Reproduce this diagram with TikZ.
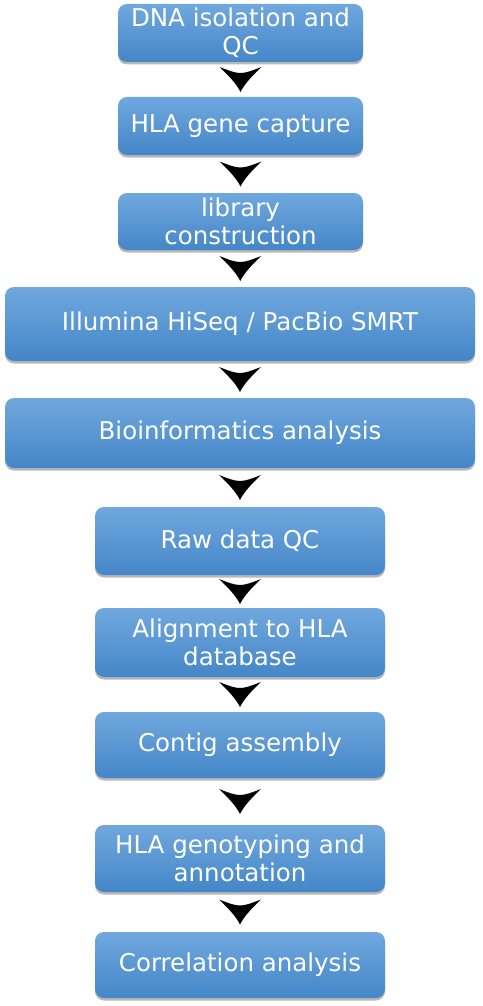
\documentclass[tikz,border=0pt]{standalone}
\usepackage{fontspec}
\setmainfont{DejaVu Sans}
\usetikzlibrary{shadows}
\definecolor{boxtop}{RGB}{112,168,222}
\definecolor{boxbot}{RGB}{68,134,200}
\tikzset{
  flowbox/.style={rectangle, rounded corners=9pt, inner sep=0pt,
    top color=boxtop, bottom color=boxbot, draw=none,
    text=white, align=center, font=\fontsize{24.5}{28}\selectfont,
    drop shadow={shadow xshift=0pt, shadow yshift=-2.5pt, fill=black, opacity=0.28}},
  flowarrow/.pic={
    \fill[black] (-21,-12.5) .. controls (0,-4.5) .. (21,-12.5)
      .. controls (14,-6) and (4,4) .. (0,12.5)
      .. controls (-4,4) and (-14,-6) .. (-21,-12.5) -- cycle;
  }
}
\begin{document}
\begin{tikzpicture}[x=1pt,y=-1pt]
\useasboundingbox (0,0) rectangle (482,1006);
\node[flowbox, minimum width=245pt, minimum height=58pt] (n1) at (240.5,33) {DNA isolation and\\QC};
\node[flowbox, minimum width=245pt, minimum height=58pt] (n2) at (240.5,126) {HLA gene capture};
\node[flowbox, minimum width=245pt, minimum height=57pt] (n3) at (240.5,221.5) {library\\construction};
\node[flowbox, minimum width=470pt, minimum height=74pt] (n4) at (240,324) {Illumina HiSeq / PacBio SMRT};
\node[flowbox, minimum width=470pt, minimum height=70pt] (n5) at (240,433) {Bioinformatics analysis};
\node[flowbox, minimum width=290pt, minimum height=68pt] (n6) at (240,541) {Raw data QC};
\node[flowbox, minimum width=290pt, minimum height=69pt] (n7) at (240,642.5) {Alignment to HLA\\database};
\node[flowbox, minimum width=290pt, minimum height=66pt] (n8) at (240,745) {Contig assembly};
\node[flowbox, minimum width=290pt, minimum height=67pt] (n9) at (240,858.5) {HLA genotyping and\\annotation};
\node[flowbox, minimum width=290pt, minimum height=66pt] (n10) at (240,965) {Correlation analysis};
\foreach \a/\b in {n1/n2,n2/n3,n3/n4,n4/n5,n5/n6,n6/n7,n7/n8,n8/n9,n9/n10}{
  \path (\a.south) -- (\b.north) pic[pos=0.5]{flowarrow};
}
\end{tikzpicture}
\end{document}
